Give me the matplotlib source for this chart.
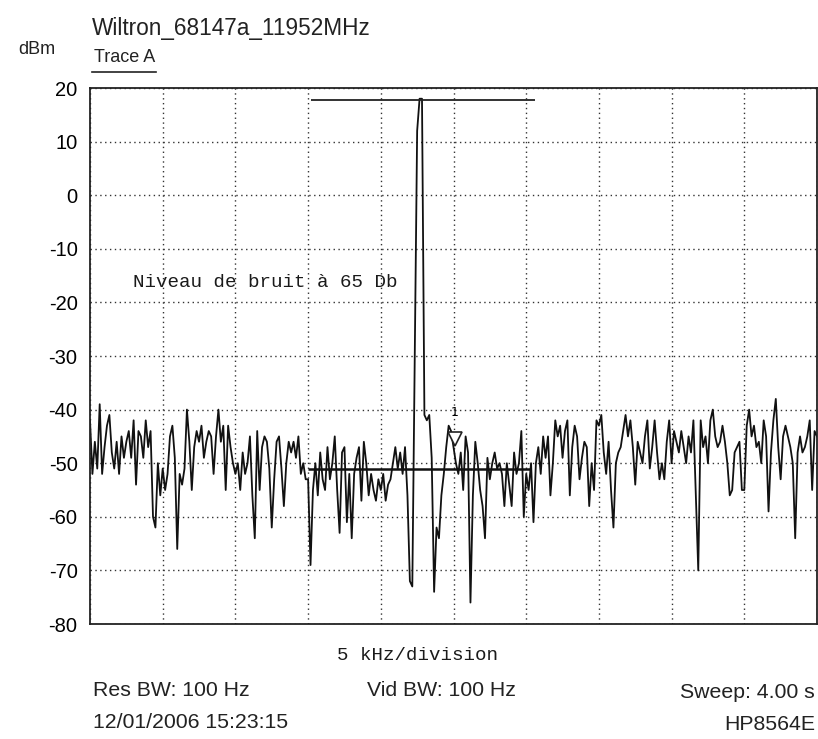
import matplotlib
matplotlib.use("Agg")
import matplotlib.pyplot as plt
import numpy as np

# Trace A in dBm, 30 sweep points per 5 kHz division (10 divisions)
trace_dbm = [
    # div 0
    -42, -52, -46, -51, -39, -52, -47, -43, -41, -48, -51, -46, -52, -45, -49,
    -46, -44, -49, -42, -54, -44, -45, -49, -42, -47, -44, -60, -62, -50, -56,
    # div 1
    -51, -55, -52, -45, -43, -49, -66, -52, -54, -51, -40, -46, -55, -47, -44,
    -46, -43, -49, -46, -44, -45, -52, -45, -40, -46, -43, -55, -43, -47, -50,
    # div 2
    -52, -50, -55, -48, -52, -50, -45, -56, -64, -44, -55, -47, -45, -46, -51,
    -62, -53, -46, -45, -51, -58, -50, -46, -48, -46, -49, -45, -52, -50, -53,
    # div 3
    -53, -69, -55, -50, -56, -48, -53, -55, -47, -53, -50, -45, -55, -63, -48,
    -47, -61, -52, -64, -52, -49, -47, -57, -46, -50, -56, -52, -55, -57, -53,
    # div 4 (carrier)
    -55, -52, -57, -54, -53, -50, -47, -51, -48, -52, -47, -56, -72, -73, -30,
    12, 18, 18, -41, -42, -41, -49, -74, -62, -64, -56, -52, -47, -43, -44,
    # div 5
    -47, -50, -52, -48, -55, -45, -48, -76, -56, -46, -50, -55, -58, -64, -49,
    -53, -50, -48, -51, -50, -52, -58, -50, -54, -58, -48, -52, -50, -44, -60,
    # div 6
    -52, -55, -50, -61, -50, -47, -52, -45, -49, -45, -56, -50, -42, -45, -43,
    -49, -44, -42, -56, -47, -43, -45, -53, -49, -46, -47, -58, -50, -55, -42,
    # div 7
    -43, -41, -48, -52, -46, -55, -62, -50, -48, -47, -44, -41, -45, -42, -47,
    -54, -46, -48, -50, -45, -42, -51, -47, -42, -48, -53, -50, -53, -46, -42,
    # div 8
    -50, -44, -46, -48, -44, -47, -50, -45, -48, -42, -56, -70, -42, -47, -45,
    -50, -42, -40, -45, -47, -46, -43, -46, -50, -56, -55, -48, -47, -46, -55,
    # div 9
    -55, -43, -40, -45, -43, -47, -46, -50, -42, -45, -59, -48, -42, -38, -47,
    -53, -45, -43, -45, -47, -50, -64, -48, -45, -48, -47, -45, -42, -55, -44,
    -45,
]

n_div = 10
y_ticks = [20, 10, 0, -10, -20, -30, -40, -50, -60, -70, -80]

peak_line = (3.04, 6.12, 17.8)     # x start, x end (div), level dBm
noise_line = (3.0, 6.06, -51.0)
marker_1 = (5.02, -45.5)

fig = plt.figure(figsize=(8.18, 7.39), dpi=100)
fig.patch.set_facecolor("white")
ax = fig.add_axes([90 / 818, 1 - 624 / 739, 727 / 818, 536 / 739])

x = np.linspace(0, n_div, len(trace_dbm))
ax.plot(x, trace_dbm, color="#111111", lw=1.3)

ax.hlines(peak_line[2], peak_line[0], peak_line[1], color="#222222", lw=1.3)
ax.hlines(noise_line[2], noise_line[0], noise_line[1], color="#111111", lw=1.8)

ax.plot(*marker_1, marker="v", ms=10, mfc="white", mec="#222222", mew=1.2)
ax.text(marker_1[0], marker_1[1] + 5, "1", fontsize=9, ha="center", va="center",
        family="DejaVu Sans")

ax.text(0.59, -16.2, "Niveau de bruit à 65 Db", family="Liberation Mono",
        fontsize=13.8, ha="left", va="center", color="#1a1a1a")

ax.set_xlim(0, n_div)
ax.set_ylim(-80, 20)
ax.set_xticks(range(n_div + 1))
ax.set_yticks(y_ticks)
ax.set_xticklabels([])
ax.set_yticklabels([str(v) for v in y_ticks], family="Liberation Sans", fontsize=14.5)
ax.tick_params(length=0, pad=9)
ax.grid(True, color="#333333", lw=1.0, ls=(0, (1, 2.5)))
for s in ax.spines.values():
    s.set_color("#222222")
    s.set_linewidth(1.3)

sans = "Liberation Sans"
fig.text(92 / 818, 1 - 28 / 739, "Wiltron_68147a_11952MHz", family=sans,
         fontsize=16.3, va="center", ha="left", color="#222222")
fig.text(18 / 818, 1 - 50 / 739, "dBm", family=sans, fontsize=13,
         va="center", ha="left", color="#222222")
fig.text(94 / 818, 1 - 58 / 739, "Trace A", family=sans, fontsize=13,
         va="center", ha="left", color="#222222")
fig.lines.append(plt.Line2D([92 / 818, 156 / 818], [1 - 72 / 739, 1 - 72 / 739],
                            transform=fig.transFigure, color="#222222", lw=1.2))

fig.text(417 / 818, 1 - 655 / 739, "5 kHz/division", family="Liberation Mono",
         fontsize=13.8, va="center", ha="center", color="#1a1a1a")
fig.text(93 / 818, 1 - 691 / 739, "Res BW: 100 Hz", family=sans, fontsize=15.3,
         va="center", ha="left", color="#222222")
fig.text(93 / 818, 1 - 723 / 739, "12/01/2006 15:23:15", family=sans, fontsize=15.3,
         va="center", ha="left", color="#222222")
fig.text(367 / 818, 1 - 691 / 739, "Vid BW: 100 Hz", family=sans, fontsize=15.3,
         va="center", ha="left", color="#222222")
fig.text(815 / 818, 1 - 693 / 739, "Sweep: 4.00 s", family=sans, fontsize=15.3,
         va="center", ha="right", color="#222222")
fig.text(815 / 818, 1 - 725 / 739, "HP8564E", family=sans, fontsize=15.3,
         va="center", ha="right", color="#222222")

fig.savefig("out.png", dpi=100)
